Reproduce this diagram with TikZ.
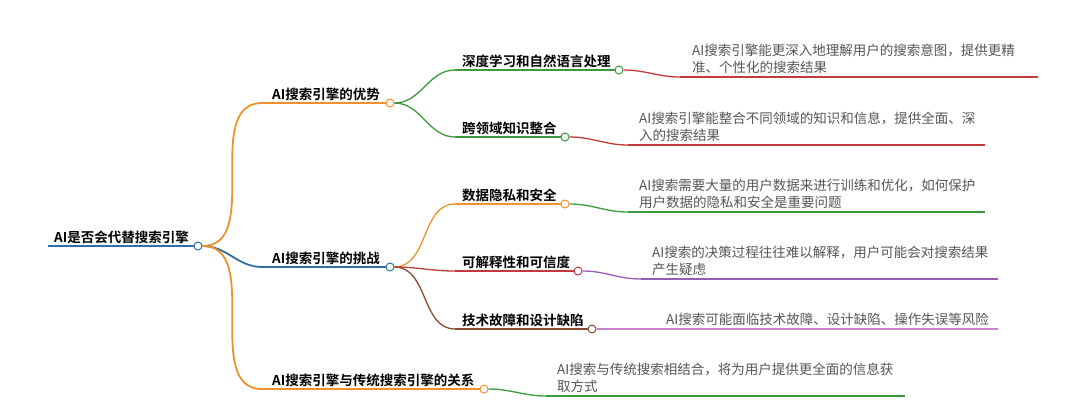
\documentclass[tikz,border=0pt]{standalone}
\usepackage{fontspec}
\setmainfont{Noto Sans CJK SC}
\newfontfamily\boldcjk{Noto Sans CJK SC Bold}
\usetikzlibrary{positioning,calc}
\definecolor{cOrange}{HTML}{F0922B}
\definecolor{cBlue}{HTML}{2F6FA6}
\definecolor{cGreen}{HTML}{3C9A3C}
\definecolor{cRed}{HTML}{C23A3A}
\definecolor{cPurple}{HTML}{9A5BB5}
\definecolor{cBrown}{HTML}{8A4A2E}
\definecolor{cPink}{HTML}{CC7FCC}
\definecolor{cText}{HTML}{555555}

\tikzset{
  ttl/.style={anchor=south west,inner sep=2pt,font=\boldcjk\fontsize{13.5}{15}\selectfont},
  desc/.style={anchor=south west,inner sep=2pt,align=left,text=cText,
    font=\fontsize{13.5}{17}\selectfont},
  dot/.style={circle,draw=#1,fill=white,line width=1pt,minimum size=8pt,inner sep=0pt},
  link/.style={line width=1.3pt,#1},
}

\begin{document}
\begin{tikzpicture}[x=1pt,y=-1pt]
\useasboundingbox (0,0) rectangle (1085,400);

% root
\coordinate (r0) at (48,246);
\node[ttl,font=\boldcjk\fontsize{13.5}{15}\selectfont] (root) at (52,246) {AI是否会代替搜索引擎};
\draw[line width=2.6pt,cBlue] (r0) -- (198,246);
\node[dot=cBlue] (rc) at (198,246) {};

% level 1
\coordinate (a0) at (262,103);
\node[ttl] (adv) at (270,103) {AI搜索引擎的优势};
\draw[link=cOrange,line width=1.8pt] (a0) -- (390,103);
\node[dot=cOrange] (ac) at (390,103) {};
\draw[link=cOrange,line width=1.8pt] (rc) to[out=0,in=180] (a0);

\coordinate (b0) at (262,267);
\node[ttl] (chl) at (270,267) {AI搜索引擎的挑战};
\draw[link=cBlue,line width=1.8pt] (b0) -- (390,267);
\node[dot=cBlue] (bc) at (390,267) {};
\draw[link=cBlue,line width=1.8pt] (rc) to[out=0,in=180] (b0);

\coordinate (c0) at (262,389);
\node[ttl] (rel) at (270,389) {AI搜索引擎与传统搜索引擎的关系};
\draw[link=cOrange,line width=1.8pt] (c0) -- (484,389);
\node[dot=cOrange] (cc) at (484,389) {};
\draw[link=cOrange,line width=1.8pt] (rc) to[out=0,in=180] (c0);

% level 2 under advantages
\coordinate (a1) at (455,70);
\node[ttl] (a1t) at (460,70) {深度学习和自然语言处理};
\draw[link=cGreen] (a1) -- (619,70);
\node[dot=cGreen] (a1c) at (619,70) {};
\draw[link=cGreen] (ac) to[out=0,in=180] (a1);

\coordinate (a2) at (455,137);
\node[ttl] (a2t) at (460,137) {跨领域知识整合};
\draw[link=cGreen] (a2) -- (565,137);
\node[dot=cGreen] (a2c) at (565,137) {};
\draw[link=cGreen] (ac) to[out=0,in=180] (a2);

% level 2 under challenges
\coordinate (b1) at (455,204);
\node[ttl] (b1t) at (460,204) {数据隐私和安全};
\draw[link=cOrange] (b1) -- (565,204);
\node[dot=cOrange] (b1c) at (565,204) {};
\draw[link=cOrange] (bc) to[out=0,in=180] (b1);

\coordinate (b2) at (455,271);
\node[ttl] (b2t) at (460,271) {可解释性和可信度};
\draw[link=cRed] (b2) -- (578,271);
\node[dot=cRed] (b2c) at (578,271) {};
\draw[link=cRed] (bc) to[out=0,in=180] (b2);

\coordinate (b3) at (455,329);
\node[ttl] (b3t) at (460,329) {技术故障和设计缺陷};
\draw[link=cBrown] (b3) -- (592,329);
\node[dot=cBrown] (b3c) at (592,329) {};
\draw[link=cBrown] (bc) to[out=0,in=180] (b3);

% descriptions
\coordinate (d1) at (680,77);
\node[desc] (d1t) at (690,76) {AI搜索引擎能更深入地理解用户的搜索意图，提供更精\\准、个性化的搜索结果};
\draw[link=cRed] (d1) -- (1038,77);
\draw[link=cRed] (a1c) to[out=0,in=180] (d1);

\coordinate (d2) at (628,145);
\node[desc] (d2t) at (637,144) {AI搜索引擎能整合不同领域的知识和信息，提供全面、深\\入的搜索结果};
\draw[link=cRed] (d2) -- (985,145);
\draw[link=cRed] (a2c) to[out=0,in=180] (d2);

\coordinate (d3) at (628,212);
\node[desc] (d3t) at (637,211) {AI搜索需要大量的用户数据来进行训练和优化，如何保护\\用户数据的隐私和安全是重要问题};
\draw[link=cGreen] (d3) -- (985,212);
\draw[link=cGreen] (b1c) to[out=0,in=180] (d3);

\coordinate (d4) at (641,279);
\node[desc] (d4t) at (650,278) {AI搜索的决策过程往往难以解释，用户可能会对搜索结果\\产生疑虑};
\draw[link=cPurple] (d4) -- (998,279);
\draw[link=cPurple] (b2c) to[out=0,in=180] (d4);

\coordinate (d5) at (655,329);
\node[desc] (d5t) at (664,328) {AI搜索可能面临技术故障、设计缺陷、操作失误等风险};
\draw[link=cPink] (d5) -- (998,329);
\draw[link=cPink] (b3c) to[out=0,in=180] (d5);

\coordinate (d6) at (546,396);
\node[desc] (d6t) at (555,395) {AI搜索与传统搜索相结合，将为用户提供更全面的信息获\\取方式};
\draw[link=cGreen] (d6) -- (905,396);
\draw[link=cGreen] (cc) to[out=0,in=180] (d6);
\end{tikzpicture}
\end{document}
